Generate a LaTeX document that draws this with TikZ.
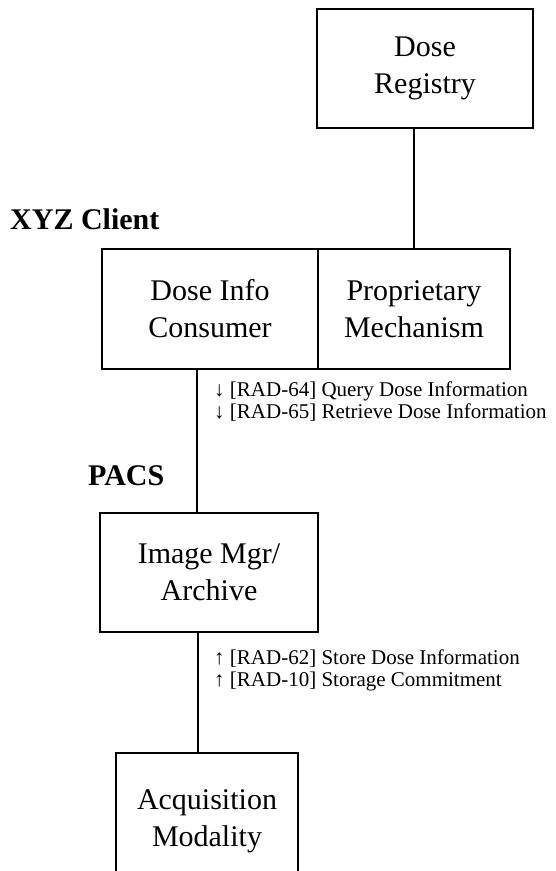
\documentclass[tikz,border=0pt]{standalone}
\usepackage{fontspec}
\setmainfont{Liberation Serif}
\usetikzlibrary{positioning}

\begin{document}
\begin{tikzpicture}[x=1pt,y=-1pt,
        box/.style={rectangle,draw,line width=1.6pt,align=center,inner sep=0pt,
          font=\fontsize{30}{37}\selectfont},
        actor/.style={anchor=base west,inner sep=0pt,font=\fontsize{30}{36}\selectfont\bfseries},
        txn/.style={anchor=base west,inner sep=0pt,font=\fontsize{21}{24}\selectfont},
        link/.style={line width=1.6pt}
      ]
        \useasboundingbox (0,0) rectangle (555,871);
        \clip (0,0) rectangle (555,871);
        \node[box,minimum width=216pt,minimum height=119pt] (registry) at (425,68.5) {Dose\\Registry};
        \node[actor] (client) at (10,229) {XYZ Client};
        \node[box,minimum width=216pt,minimum height=120pt] (consumer) at (210,309) {Dose Info\\Consumer};
        \node[box,minimum width=192pt,minimum height=120pt] (mechanism) at (414,309) {Proprietary\\Mechanism};
        \node[txn] (rad64) at (214,396) {↓ [RAD-64] Query Dose Information};
        \node[txn] (rad65) at (214,418) {↓ [RAD-65] Retrieve Dose Information};
        \node[actor] (pacs) at (88,485) {PACS};
        \node[box,minimum width=218pt,minimum height=119pt] (archive) at (209,572.5) {Image Mgr/\\Archive};
        \node[txn] (rad62) at (214,664) {↑ [RAD-62] Store Dose Information};
        \node[txn] (rad10) at (214,686) {↑ [RAD-10] Storage Commitment};
        \node[box,minimum width=182pt,minimum height=136pt] (modality) at (207,821) {Acquisition\\Modality};
        \draw[link] (registry.south -| mechanism.north) -- (mechanism.north);
        \draw[link] ([xshift=-13pt]consumer.south) -- ([xshift=-13pt]consumer.south |- archive.north);
        \draw[link] ([xshift=-11pt]archive.south) -- ([xshift=-11pt]archive.south |- modality.north);
      \end{tikzpicture}
\end{document}
